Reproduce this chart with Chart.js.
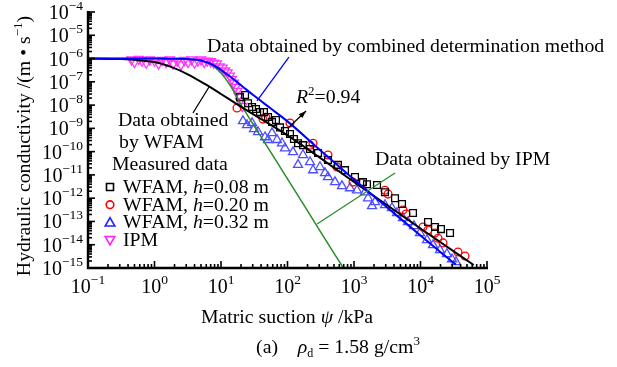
<!DOCTYPE html>
<html>
<head>
<meta charset="utf-8">
<script src="https://cdn.jsdelivr.net/npm/chart.js@4.4.0/dist/chart.umd.min.js"></script>
<style>
  html, body { margin: 0; padding: 0; background: #fff; }
</style>
</head>
<body>
<canvas id="myChart" width="617" height="367"></canvas>
<script>
// measured data (matric suction kPa, hydraulic conductivity m/s)
const ipmX = [0.45, 0.5, 0.58, 0.65, 0.75, 0.85, 1.0, 1.15, 1.3, 1.5, 1.7, 1.9, 2.2, 2.5, 2.8, 3.2, 3.6, 4.0, 4.5, 5.0, 5.6, 6.2, 7.0, 7.8, 8.6, 9.5, 10.5, 11.5, 12.5, 13.5, 14.5, 15.5, 16.5, 17.5, 18.5, 19.5, 21]
const ipmY = [9e-7, 7e-7, 9.5e-7, 8e-7, 6.5e-7, 9e-7, 8e-7, 6e-7, 8.5e-7, 7e-7, 9e-7, 6e-7, 8e-7, 5.5e-7, 8.5e-7, 7e-7, 9e-7, 6.5e-7, 8e-7, 9e-7, 7e-7, 8e-7, 7.5e-7, 6.5e-7, 6e-7, 4.5e-7, 4e-7, 3e-7, 2.5e-7, 1.8e-7, 1.3e-7, 9e-8, 6e-8, 4e-8, 2.5e-8, 1.5e-8, 9e-9]

const h008X = [19.3, 23, 25.5, 29.3, 33.6, 38.6, 44.3, 50.9, 58.5, 67.1, 77.1, 91.6, 109, 125, 144, 171, 218, 288, 406, 574, 732, 1035, 1365, 1567, 2218, 2924, 4138, 5272, 7709, 12970, 16520, 20320, 27800]
const h008Y = [2.2e-8, 2.7e-8, 1.2e-8, 8.3e-9, 6.8e-9, 5e-9, 5e-9, 3.1e-9, 1.9e-9, 2.3e-9, 1.1e-9, 7.7e-10, 5.7e-10, 3.5e-10, 2.3e-10, 1.9e-10, 1.3e-10, 8.7e-11, 4.4e-11, 2.7e-11, 1.6e-11, 8.1e-12, 4.9e-12, 4e-12, 3.7e-12, 1.8e-12, 1e-12, 5.6e-13, 2.3e-13, 9.5e-14, 5.8e-14, 4.7e-14, 3.2e-14]

const h020X = [17.4, 42.8, 47, 109, 218, 242, 406, 555, 966, 1318, 2924, 3245, 5455, 6050, 10900, 12970, 16520, 18330, 21800, 36600, 46700]
const h020Y = [7.5e-9, 2.5e-9, 3e-9, 1.7e-9, 1.9e-10, 2.3e-10, 7.2e-11, 2.2e-11, 4.9e-12, 4.5e-12, 2.2e-12, 1.5e-12, 3.1e-13, 2.1e-13, 5.8e-14, 4.3e-14, 3.2e-14, 1.9e-14, 1.2e-14, 4.9e-15, 3.3e-15]

const h032X = [21.4, 24.6, 29.3, 31.3, 36, 45.9, 50.9, 58.5, 69.5, 82.6, 91.6, 121, 144, 171, 218, 242, 308, 366, 406, 518, 660, 871, 1109, 1463, 1625, 1866, 2070, 2924, 3726, 4436, 5455, 6486, 7980, 9820, 12530, 15420, 19640, 25000, 29780, 34200]
const h032Y = [2.07e-9, 1.39e-9, 1.7e-9, 9.4e-10, 7e-10, 4.2e-10, 3.2e-10, 6.3e-10, 3.2e-10, 2.3e-10, 1.4e-10, 9.6e-11, 2.7e-11, 7.2e-11, 3.6e-11, 1.6e-11, 2.2e-11, 1.2e-11, 8.1e-12, 4.9e-12, 3.3e-12, 2.7e-12, 2.2e-12, 1.8e-12, 1e-12, 4.6e-13, 6.8e-13, 5.1e-13, 3.8e-13, 2.3e-13, 1.4e-13, 9.5e-14, 6.4e-14, 3.2e-14, 1.6e-14, 9.7e-15, 5.9e-15, 4e-15, 2.4e-15, 1.8e-15]

// fitted curves
const combX = [0.1, 1, 3.16, 5.01, 7.94, 12.6, 20, 31.6, 56.2, 100, 316, 1000, 3162, 10000, 33900]
const combY = [1e-6, 1e-6, 9.5e-7, 8.3e-7, 5.0e-7, 2.0e-7, 7.1e-8, 2.5e-8, 7.1e-9, 2.0e-9, 1.1e-10, 6.3e-12, 4.0e-13, 2.5e-14, 1.4e-15]
const wfamX = [0.1, 0.316, 0.631, 1, 1.78, 3.16, 5.62, 10, 17.8, 31.6, 100, 1000, 10000, 63100]
const wfamY = [1e-6, 9.5e-7, 8.3e-7, 7.1e-7, 4.4e-7, 2.1e-7, 8.3e-8, 3.0e-8, 1.05e-8, 3.8e-9, 5.0e-10, 5.0e-12, 5.0e-14, 1.35e-15]
const ipmFitX = [0.1, 1, 3.16, 5.01, 7.08, 10, 14.1, 20, 31.6, 100, 316, 692]
const ipmFitY = [1e-6, 1e-6, 9.5e-7, 8.3e-7, 5.6e-7, 2.4e-7, 6.3e-8, 1.05e-8, 1.26e-9, 6.8e-12, 3.5e-14, 1e-15]

// tick labels (powers of ten)
const xPowers = [-1, 0, 1, 2, 3, 4, 5]
const yPowers = [-15, -14, -13, -12, -11, -10, -9, -8, -7, -6, -5, -4]

const FONT = '"Liberation Serif", "Times New Roman", serif'
const FS = 19.8

function pairs(xs, ys) {
  return xs.map((x, i) => ({ x: x, y: ys[i] }))
}

// draws a run of text pieces: {t, it, sz, dy}
function runsWidth(ctx, runs) {
  let w = 0
  runs.forEach((r) => {
    ctx.font = (r.it ? 'italic ' : '') + (r.sz || FS) + 'px ' + FONT
    w += ctx.measureText(r.t).width
  })
  return w
}
function drawRuns(ctx, runs, x, y, align) {
  let w = runsWidth(ctx, runs)
  let cx = x
  if (align === 'center') cx = x - w / 2
  if (align === 'right') cx = x - w
  ctx.textAlign = 'left'
  ctx.textBaseline = 'alphabetic'
  runs.forEach((r) => {
    ctx.font = (r.it ? 'italic ' : '') + (r.sz || FS) + 'px ' + FONT
    ctx.fillText(r.t, cx, y + (r.dy || 0))
    cx += ctx.measureText(r.t).width
  })
}
function pow10(e) {
  return [{ t: '10', sz: 20 }, { t: (e < 0 ? '\u2212' : '') + Math.abs(e), sz: 13.5, dy: -9 }]
}

function line(ctx, x1, y1, x2, y2) {
  ctx.beginPath()
  ctx.moveTo(x1, y1)
  ctx.lineTo(x2, y2)
  ctx.stroke()
}

const extras = {
  id: 'extras',
  afterDraw(chart) {
    const ctx = chart.ctx
    const xs = chart.scales.x
    const ys = chart.scales.y
    const a = chart.chartArea
    const P = (x, y) => [xs.getPixelForValue(x), ys.getPixelForValue(y)]
    ctx.save()
    ctx.fillStyle = '#000'
    ctx.strokeStyle = '#000'

    // axes
    ctx.lineWidth = 2.4
    line(ctx, a.left, a.top - 1, a.left, a.bottom + 1)
    line(ctx, a.left - 1, a.bottom, a.right + 1, a.bottom)
    ctx.lineWidth = 1.6
    for (let e = -1; e <= 5; e++) {
      for (let k = 1; k <= 9; k++) {
        if (e === 5 && k > 1) break
        const px = xs.getPixelForValue(k * Math.pow(10, e))
        line(ctx, px, a.bottom, px, a.bottom - (k === 1 ? 7 : 4))
      }
    }
    for (let e = -15; e <= -4; e++) {
      for (let k = 1; k <= 9; k++) {
        if (e === -4 && k > 1) break
        const py = ys.getPixelForValue(k * Math.pow(10, e))
        line(ctx, a.left, py, a.left + (k === 1 ? 7 : 4), py)
      }
    }

    // tick labels
    xPowers.forEach((e) => {
      drawRuns(ctx, pow10(e), xs.getPixelForValue(Math.pow(10, e)), a.bottom + 25, 'center')
    })
    yPowers.forEach((e) => {
      drawRuns(ctx, pow10(e), a.left - 5, ys.getPixelForValue(Math.pow(10, e)) + 7, 'right')
    })

    // axis titles
    ctx.save()
    ctx.translate(30, 146)
    ctx.rotate(-Math.PI / 2)
    drawRuns(ctx, [{ t: 'Hydraulic conductivity /(m \u2022 s' }, { t: '\u22121', sz: 13, dy: -8 }, { t: ')' }], 0, 0, 'center')
    ctx.restore()
    drawRuns(ctx, [{ t: 'Matric suction ' }, { t: '\u03c8', it: true }, { t: ' /kPa' }], 287, 323, 'center')
    drawRuns(ctx, [{ t: '(a)    ' }, { t: '\u03c1', it: true }, { t: 'd', sz: 12, dy: 4 }, { t: ' = 1.58 g/cm' }, { t: '3', sz: 13, dy: -8 }], 338, 353, 'center')

    // annotations
    ctx.lineWidth = 1.3
    ctx.strokeStyle = '#0000ff'
    let p1 = P(34.8, 1.5e-8), p2 = P(105, 1.16e-6)
    line(ctx, p1[0], p1[1], p2[0], p2[1])
    ctx.strokeStyle = '#000'
    p1 = P(3.79, 4.57e-9); p2 = P(6.6, 6.0e-8)
    line(ctx, p1[0], p1[1], p2[0], p2[1])
    p1 = P(102, 1.04e-9); p2 = P(190, 5.6e-9)
    line(ctx, p1[0], p1[1], p2[0], p2[1])
    const ang = Math.atan2(p2[1] - p1[1], p2[0] - p1[0])
    ctx.beginPath()
    ctx.moveTo(p2[0], p2[1])
    ctx.lineTo(p2[0] - 8 * Math.cos(ang - 0.35), p2[1] - 8 * Math.sin(ang - 0.35))
    ctx.lineTo(p2[0] - 8 * Math.cos(ang + 0.35), p2[1] - 8 * Math.sin(ang + 0.35))
    ctx.closePath()
    ctx.fill()
    ctx.strokeStyle = '#2a8c2a'
    p1 = P(278, 7.8e-14); p2 = P(4140, 1.2e-11)
    line(ctx, p1[0], p1[1], p2[0], p2[1])

    drawRuns(ctx, [{ t: 'Data obtained by combined determination method' }], 207, 52, 'left')
    drawRuns(ctx, [{ t: 'R', it: true }, { t: '2', sz: 13, dy: -8 }, { t: '=0.94' }], 296, 103, 'left')
    drawRuns(ctx, [{ t: 'Data obtained' }], 118, 126, 'left')
    drawRuns(ctx, [{ t: 'by WFAM' }], 119, 148, 'left')
    drawRuns(ctx, [{ t: 'Data obtained by IPM' }], 375, 165, 'left')

    // legend
    drawRuns(ctx, [{ t: 'Measured data' }], 112, 170, 'left')
    const items = [
      { runs: [{ t: 'WFAM, ' }, { t: 'h', it: true }, { t: '=0.08 m' }], kind: 'sq', col: '#000' },
      { runs: [{ t: 'WFAM, ' }, { t: 'h', it: true }, { t: '=0.20 m' }], kind: 'ci', col: '#ff0000' },
      { runs: [{ t: 'WFAM, ' }, { t: 'h', it: true }, { t: '=0.32 m' }], kind: 'tu', col: '#2222ff' },
      { runs: [{ t: 'IPM' }], kind: 'td', col: '#ff22ff' },
    ]
    items.forEach((it, i) => {
      const cy = 187 + i * 17.7
      const cx = 110
      ctx.strokeStyle = it.col
      ctx.lineWidth = 1.6
      ctx.beginPath()
      if (it.kind === 'sq') ctx.rect(cx - 3.5, cy - 3.5, 7, 7)
      if (it.kind === 'ci') ctx.arc(cx, cy, 3.8, 0, Math.PI * 2)
      if (it.kind === 'tu') { ctx.moveTo(cx, cy - 4.8); ctx.lineTo(cx + 4.8, cy + 3.6); ctx.lineTo(cx - 4.8, cy + 3.6); ctx.closePath() }
      if (it.kind === 'td') { ctx.moveTo(cx, cy + 4.8); ctx.lineTo(cx + 4.8, cy - 3.6); ctx.lineTo(cx - 4.8, cy - 3.6); ctx.closePath() }
      ctx.stroke()
      ctx.fillStyle = '#000'
      drawRuns(ctx, it.runs, 123, cy + 6, 'left')
    })
    ctx.restore()
  },
}

const fitLine = (label, xs, ys, color, w) => ({
  label: label,
  data: pairs(xs, ys),
  showLine: true,
  borderColor: color,
  borderWidth: w,
  pointRadius: 0,
  cubicInterpolationMode: 'monotone',
  order: 0,
})
const marks = (label, xs, ys, color, style, r, rot) => ({
  label: label,
  data: pairs(xs, ys),
  showLine: false,
  pointStyle: style,
  pointRadius: r,
  rotation: rot || 0,
  borderColor: color,
  backgroundColor: 'rgba(0,0,0,0)',
  borderWidth: 1.3,
  order: 1,
})

const config = {
  type: 'scatter',
  data: {
    datasets: [
      fitLine('Combined', combX, combY, '#0000ff', 2),
      fitLine('WFAM fit', wfamX, wfamY, '#000000', 2),
      fitLine('IPM fit', ipmFitX, ipmFitY, '#2a8c2a', 1.5),
      marks('WFAM, h=0.08 m', h008X, h008Y, '#000000', 'rect', 4.8),
      marks('WFAM, h=0.20 m', h020X, h020Y, '#ff0000', 'circle', 3.9),
      marks('WFAM, h=0.32 m', h032X, h032Y, '#4d4dff', 'triangle', 5.2),
      marks('IPM', ipmX, ipmY, '#ff33ff', 'triangle', 5.4, 180),
    ],
  },
  options: {
    responsive: false,
    animation: false,
    layout: { padding: { left: 88, right: 130, top: 12, bottom: 99 } },
    plugins: { legend: { display: false }, tooltip: { enabled: false } },
    scales: {
      x: { type: 'logarithmic', min: 0.1, max: 1e5, display: false },
      y: { type: 'logarithmic', min: 1e-15, max: 1e-4, display: false },
    },
  },
  plugins: [extras],
}

const myChart = new Chart(document.getElementById('myChart'), config)
</script>
</body>
</html>
